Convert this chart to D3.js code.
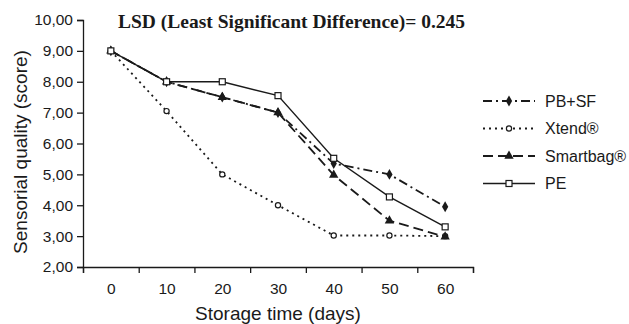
<!DOCTYPE html>
<html>
<head>
<meta charset="utf-8">
<script src="https://cdn.jsdelivr.net/npm/d3@7"></script>
<style>
  body { margin: 0; background: #fff; }
  svg text { font-family: Arial, "Liberation Sans", sans-serif; fill: #1a1a1a; }
</style>
</head>
<body>
<script>
// data
var days = [0, 10, 20, 30, 40, 50, 60];
var pbsf = [9.0, 8.0, 7.5, 7.0, 5.35, 5.0, 3.95];
var xtend = [9.0, 7.05, 5.0, 4.0, 3.02, 3.02, 3.0];
var smartbag = [9.0, 8.0, 7.5, 7.0, 4.98, 3.5, 2.98];
var pe = [9.0, 8.0, 8.0, 7.55, 5.52, 4.27, 3.3];
var yTicks = [2, 3, 4, 5, 6, 7, 8, 9, 10];
var seriesNames = ["PB+SF", "Xtend®", "Smartbag®", "PE"];

var width = 629, height = 324;
var ink = "#1a1a1a";

var svg = d3.select("body").append("svg")
    .attr("width", width)
    .attr("height", height);

// scales
var x = d3.scaleLinear().domain([-5, 65]).range([83, 473]);
var y = d3.scaleLinear().domain([2, 10]).range([267, 20]);

var series = [
  {name: seriesNames[0], values: pbsf, dash: "9,4,2,4", marker: "diamond"},
  {name: seriesNames[1], values: xtend, dash: "2,4", marker: "circle"},
  {name: seriesNames[2], values: smartbag, dash: "10,5", marker: "triangle"},
  {name: seriesNames[3], values: pe, dash: null, marker: "square"}
];

// axes
var comma = function(d) { return d3.format(".2f")(d).replace(".", ","); };

var yAxis = svg.append("g")
    .attr("transform", "translate(" + x.range()[0] + ",0)")
    .call(d3.axisLeft(y).tickValues(yTicks).tickSize(6).tickPadding(4).tickFormat(comma));
yAxis.selectAll("text").style("font-size", "15.5px");

var xAxis = svg.append("g")
    .attr("transform", "translate(0," + y(2) + ")")
    .call(d3.axisBottom(x).tickValues(d3.range(-5, 66, 10)).tickSize(6).tickFormat(""));

var xLabels = svg.append("g")
    .attr("transform", "translate(0," + y(2) + ")")
    .call(d3.axisBottom(x).tickValues(days).tickSize(0).tickPadding(16).tickFormat(d3.format("d")));
xLabels.select(".domain").remove();
xLabels.selectAll("text").style("font-size", "15.5px");

svg.selectAll(".domain, .tick line").attr("stroke", ink).attr("stroke-width", 1.3);

// axis titles
svg.append("text")
    .attr("x", 278).attr("y", 320)
    .attr("text-anchor", "middle")
    .style("font-size", "19px")
    .text("Storage time (days)");

svg.append("text")
    .attr("transform", "translate(27,152) rotate(-90)")
    .attr("text-anchor", "middle")
    .style("font-size", "19px")
    .text("Sensorial quality (score)");

svg.append("text")
    .attr("x", 118).attr("y", 28)
    .style("font-family", "'Liberation Serif', 'Times New Roman', serif")
    .style("font-weight", "bold")
    .style("font-size", "19.5px")
    .text("LSD (Least Significant Difference)= 0.245");

// markers
function drawMarker(g, type, cx, cy) {
  if (type === "diamond") {
    g.append("path").attr("d", d3.symbol(d3.symbolDiamond, 34)())
      .attr("transform", "translate(" + cx + "," + cy + ")").attr("fill", ink);
  } else if (type === "circle") {
    g.append("circle").attr("cx", cx).attr("cy", cy).attr("r", 2.6)
      .attr("fill", "#fff").attr("stroke", ink).attr("stroke-width", 1.2);
  } else if (type === "triangle") {
    g.append("path").attr("d", d3.symbol(d3.symbolTriangle, 38)())
      .attr("transform", "translate(" + cx + "," + cy + ")").attr("fill", ink);
  } else {
    g.append("rect").attr("x", cx - 3).attr("y", cy - 3).attr("width", 6).attr("height", 6)
      .attr("fill", "#fff").attr("stroke", ink).attr("stroke-width", 1.2);
  }
}

var line = d3.line()
    .x(function(d, i) { return x(days[i]); })
    .y(function(d) { return y(d); });

series.forEach(function(s) {
  var g = svg.append("g");
  g.append("path")
    .attr("d", line(s.values))
    .attr("fill", "none")
    .attr("stroke", ink)
    .attr("stroke-width", s.dash ? 1.8 : 1.4)
    .attr("stroke-dasharray", s.dash);
  s.values.forEach(function(v, i) { drawMarker(g, s.marker, x(days[i]), y(v)); });
});

// legend
var legend = svg.append("g");
series.forEach(function(s, i) {
  var ly = 101 + i * 27.5;
  legend.append("line")
    .attr("x1", 483).attr("x2", 535).attr("y1", ly).attr("y2", ly)
    .attr("stroke", ink).attr("stroke-width", s.dash ? 1.8 : 1.4)
    .attr("stroke-dasharray", s.dash);
  drawMarker(legend, s.marker, 509, ly);
  legend.append("text")
    .attr("x", 545).attr("y", ly + 5.5)
    .style("font-size", "16px")
    .text(s.name);
});
</script>
</body>
</html>
